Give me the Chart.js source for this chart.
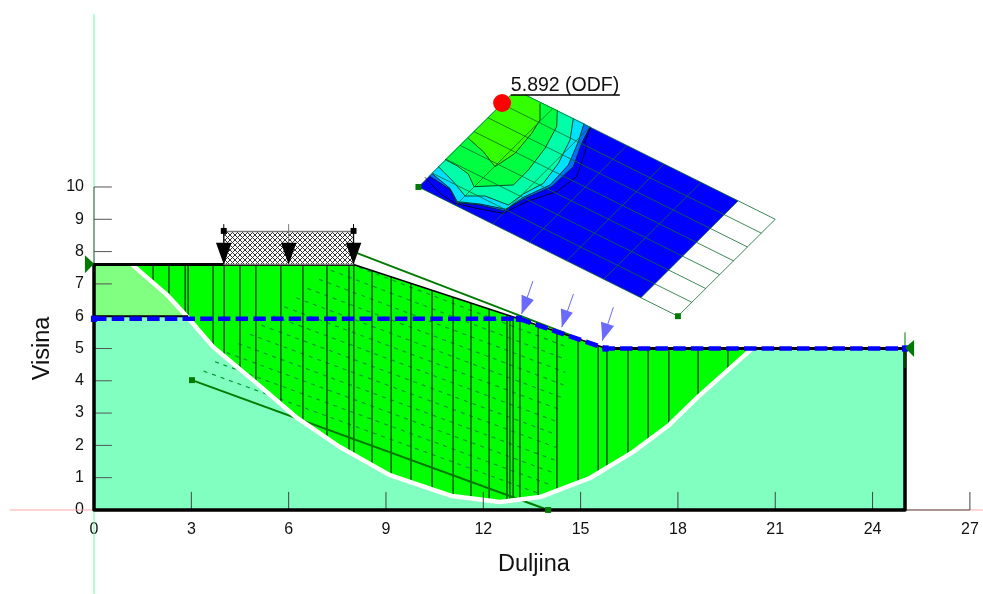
<!DOCTYPE html>
<html>
<head>
<meta charset="utf-8">
<title>Visina / Duljina</title>
<style>
  html, body { margin: 0; padding: 0; background: #fff; overflow: hidden; }
  canvas { display: block; }
</style>
<script src="https://cdn.jsdelivr.net/npm/chart.js@4"></script>
</head>
<body>
<canvas id="slopeChart" width="983" height="594"></canvas>
<script>
// axis ticks
const xTicks = [0, 3, 6, 9, 12, 15, 18, 21, 24, 27];
const yTicks = [0, 1, 2, 3, 4, 5, 6, 7, 8, 9, 10];

// slip surface (white line)
const slipX = [1.11, 2.25, 2.87, 3.67, 4.90, 6.26, 7.58, 9.12, 11.04, 12.52, 13.75, 15.29, 16.62, 17.69, 18.62, 19.54, 20.31];
const slipY = [7.65, 6.66, 5.98, 5.05, 4.02, 2.85, 1.95, 1.08, 0.43, 0.25, 0.40, 0.99, 1.80, 2.60, 3.50, 4.33, 5.02];

// ground surface and water table
const groundX = [0, 8, 13, 15.8, 25];
const groundY = [7.6, 7.6, 5.95, 5.0, 5.0];
const waterX = [0, 13.1, 15.77, 25];
const waterY = [5.92, 5.92, 5.0, 5.0];

// slices
const sliceX = [1.82, 2.31, 2.81, 2.90, 3.67, 4.01, 4.50, 4.99, 5.76, 6.44, 7.18, 7.86, 8.01, 8.57, 9.16, 9.77, 10.42, 11.07, 11.62, 12.18, 12.73, 12.82, 12.92, 13.13, 13.69, 14.27, 14.92, 15.54, 15.81, 16.46, 17.08, 17.72, 18.62, 19.54];
const sliceTop = [7.6, 7.6, 7.6, 7.6, 7.6, 7.6, 7.6, 7.6, 7.6, 7.6, 7.6, 7.6, 7.6, 7.41, 7.22, 7.02, 6.80, 6.59, 6.41, 6.22, 6.04, 6.01, 5.98, 5.91, 5.72, 5.53, 5.32, 5.11, 5.02, 5.0, 5.0, 5.0, 5.0, 5.0];
const sliceBottom = [7.03, 6.59, 6.05, 5.95, 5.05, 4.77, 4.36, 3.94, 3.28, 2.73, 2.22, 1.79, 1.71, 1.39, 1.07, 0.86, 0.64, 0.42, 0.36, 0.29, 0.28, 0.29, 0.30, 0.32, 0.39, 0.60, 0.85, 1.14, 1.31, 1.70, 2.14, 2.63, 3.50, 4.33];

// entry / exit range lines and the dashed lines between them
const rangeLowX = [3.02, 14.0];
const rangeLowY = [4.02, 0];
const rangeHighX = [8.01, 14.67];
const rangeHighY = [7.99, 5.42];
const fanStartX = [3.38, 3.73, 4.09, 4.45, 4.80, 5.16, 5.52, 5.87, 6.23, 6.58, 6.94, 7.30, 7.65];
const fanStartY = [4.30, 4.59, 4.87, 5.15, 5.44, 5.72, 6.01, 6.29, 6.57, 6.86, 7.14, 7.42, 7.71];
const fanEndX = [14.05, 14.10, 14.14, 14.19, 14.24, 14.29, 14.34, 14.38, 14.43, 14.48, 14.53, 14.58, 14.62];
const fanEndY = [0.39, 0.77, 1.16, 1.55, 1.94, 2.32, 2.71, 3.10, 3.48, 3.87, 4.26, 4.65, 5.03];

// surcharge on the crest
const loadX = [4, 6, 8];
const hatchX = [4, 8, 8, 4];
const hatchY = [7.6, 7.6, 8.62, 8.62];

// blue point loads on the slope
const arrowTipX = [13.18, 14.42, 15.67];
const arrowTipY = [6.07, 5.66, 5.24];
const arrowLeftX = [13.18, 14.39, 15.63];
const arrowLeftY = [6.66, 6.24, 5.83];
const arrowRightX = [13.56, 14.76, 16.03];
const arrowRightY = [6.50, 6.11, 5.70];
const arrowTailX = [13.53, 14.78, 16.01];
const arrowTailY = [7.09, 6.69, 6.28];

// ODF grid, corners and lines
const gridFillX = [10, 12.85, 13.3, 19.857, 16.857];
const gridFillY = [10, 12.85, 12.85, 9.571, 6.571];
const gridAcrossX0 = [10, 11.143, 12.286, 13.429, 14.571, 15.714, 16.857, 18];
const gridAcrossY0 = [10, 9.429, 8.857, 8.286, 7.714, 7.143, 6.571, 6];
const gridAcrossX1 = [12.85, 14.143, 15.286, 16.429, 17.571, 18.714, 19.857, 21];
const gridAcrossY1 = [12.85, 12.429, 11.857, 11.286, 10.714, 10.143, 9.571, 9];
const gridAlongX0 = [10, 10.429, 10.857, 11.286, 11.714, 12.143, 12.571, 13.3];
const gridAlongY0 = [10, 10.429, 10.857, 11.286, 11.714, 12.143, 12.571, 12.85];
const gridAlongX1 = [18, 18.429, 18.857, 19.286, 19.714, 20.143, 20.571, 21];
const gridAlongY1 = [6, 6.429, 6.857, 7.286, 7.714, 8.143, 8.571, 9];

// ODF contour bands, outermost first
const bandColors = ['#0070ff', '#00e0ff', '#00ffa8', '#00ff40', '#33ff00'];
const bandX = [
  [10.337, 10.974, 11.18, 11.899, 12.618, 13.286, 14.108, 14.776, 15.033, 15.29, 13.3, 12.85],
  [10.409, 10.974, 11.2, 11.899, 12.7, 13.235, 14.057, 14.622, 14.93, 15.105, 13.3, 12.85],
  [10.615, 11.077, 11.437, 12.053, 12.772, 13.235, 13.851, 14.314, 14.673, 14.776, 13.3, 12.85],
  [10.82, 11.2, 11.539, 11.714, 12.927, 13.389, 13.903, 14.262, 14.283, 13.3, 12.85],
  [11.539, 12.002, 12.361, 12.978, 13.492, 13.748, 13.748, 13.3, 12.85]
];
const bandY = [
  [10.34, 9.927, 9.515, 9.442, 9.267, 9.649, 10.01, 10.629, 11.352, 11.868, 12.85, 12.85],
  [10.423, 9.958, 9.546, 9.473, 9.308, 9.68, 10.062, 10.681, 11.403, 11.971, 12.85, 12.85],
  [10.629, 10.165, 9.721, 9.721, 9.442, 9.783, 10.113, 10.732, 11.455, 12.126, 12.85, 12.85],
  [10.856, 10.65, 10.402, 10.01, 10.062, 10.526, 11.197, 11.868, 12.384, 12.85, 12.85],
  [11.506, 11.094, 10.629, 11.042, 11.661, 12.074, 12.59, 12.85, 12.85]
];
const outerContourX = [10.2, 10.666, 11.128, 11.796, 12.618, 13.338, 14.262, 14.879, 15.187, 15.136, 15.31];
const outerContourY = [10.3, 9.804, 9.494, 9.339, 9.184, 9.546, 9.855, 10.32, 11.248, 11.403, 11.847];

// critical point and anchor squares
const odfPointX = [12.58];
const odfPointY = [12.6];
const anchorX = [3.02, 14.0, 10, 18];
const anchorY = [4.02, 0, 10, 6];
const odfLabel = '5.892 (ODF)';
const xTitle = 'Duljina';
const yTitle = 'Visina';

const toPoints = (xs, ys) => xs.map((x, i) => ({ x: x, y: ys[i] }));

const layers = [];

function addLine(xs, ys, color, width, dash) {
    layers.push({
        data: toPoints(xs, ys),
        showLine: true,
        borderColor: color,
        borderWidth: width,
        borderDash: dash || [],
        borderJoinStyle: 'round',
        pointRadius: 0,
        fill: false
    });
}

function addShape(xs, ys, color) {
    layers.push({
        data: toPoints(xs, ys),
        showLine: true,
        borderColor: 'transparent',
        borderWidth: 0,
        backgroundColor: color,
        pointRadius: 0,
        fill: 'shape'
    });
}

function addPoints(xs, ys, color, style, radius) {
    layers.push({
        data: toPoints(xs, ys),
        showLine: false,
        pointStyle: style,
        pointRadius: radius,
        pointBackgroundColor: color,
        pointBorderColor: color,
        pointBorderWidth: 0
    });
}

// cross hatch for the surcharge
function hatchPattern() {
    const tile = document.createElement('canvas');
    tile.width = 5;
    tile.height = 5;
    const c = tile.getContext('2d');
    c.fillStyle = '#fff';
    c.fillRect(0, 0, 5, 5);
    c.strokeStyle = '#333';
    c.lineWidth = 1;
    c.beginPath();
    c.moveTo(0, 0); c.lineTo(5, 5);
    c.moveTo(5, 0); c.lineTo(0, 5);
    c.stroke();
    return c.createPattern(tile, 'repeat');
}

// axis fits take no room, the plot area is the whole canvas
function noFitX(s) {
    s.height = 0;
    s.paddingLeft = s.paddingRight = s.paddingTop = s.paddingBottom = 0;
}
function noFitY(s) {
    s.width = 0;
    s.paddingLeft = s.paddingRight = s.paddingTop = s.paddingBottom = 0;
}

// reference axes
addLine([-2.6, 27.4], [0, 0], '#ffaaaa', 1);
addLine([0, 0], [-2.6, 15.35], '#66ffaa', 1);

// soil layers
addShape([0, 25, 25, 20.31].concat(slipX.slice(2).reverse(), [0]), [0, 0, 5, 5].concat(slipY.slice(2).reverse(), [6]), '#80ffc0');
addShape([0, 2.87, 2.25, 1.11, 0], [6, 5.98, 6.66, 7.6, 7.6], '#80ff80');
addShape(slipX.concat([15.8, 13, 8, 1.11]), slipY.concat([5.0, 5.95, 7.6, 7.6]), '#00ff00');

// dashed lines between the range lines
fanStartX.forEach((x, i) => addLine([x, fanEndX[i]], [fanStartY[i], fanEndY[i]], '#009a30', 1.2, [4, 5]));

// slices
sliceX.forEach((x, i) => addLine([x, x], [sliceBottom[i], sliceTop[i]], '#0a2a0a', 1.2));

addLine(rangeLowX, rangeLowY, '#007a00', 2);
addLine(rangeHighX, rangeHighY, '#007a00', 2);
addLine(slipX, slipY, '#ffffff', 4.5);

// tick marks grow inward from the axes
xTicks.forEach(v => addLine([v, v], [0, 0.56], '#444', 1));
yTicks.forEach(v => addLine([0, 0.55], [v, v], '#555', 1));
addLine([0, 27], [0, 0], '#555', 1);
addLine([0, 0], [0, 10], '#555', 1);

// model outline
addLine(groundX.slice(0, 2), groundY.slice(0, 2), '#000', 3);
addLine(groundX.slice(1, 4), groundY.slice(1, 4), '#000', 1.5);
addLine(groundX.slice(3), groundY.slice(3), '#000', 3);
addLine([0, 2.9], [6, 6], '#000', 2);
addLine([0, 0, 25, 25], [7.6, 0, 0, 5], '#000', 3.5);
addLine([25, 25], [4.4, 5.5], '#007a00', 1);

// water table
addLine(waterX, waterY, '#0000ff', 4.7, [12.5, 5.2]);
addPoints(waterX, waterY, '#0000ff', 'rect', 4.4);

// surcharge with arrows
addShape(hatchX, hatchY, hatchPattern());
addLine(hatchX.concat([4]), hatchY.concat([7.6]), '#777', 1.5);
loadX.forEach(x => {
    addLine([x, x], [7.6, 8.85], x === 6 ? '#777' : '#000', 1);
    addShape([x, x - 0.24, x + 0.24], [7.6, 8.27, 8.27], '#000');
});
addPoints([4, 8], [8.64, 8.64], '#000', 'rect', 4.2);

// point loads
arrowTipX.forEach((x, i) => {
    addLine([x, arrowTailX[i]], [arrowTipY[i], arrowTailY[i]], '#6a6aff', 1);
    addShape([x, arrowLeftX[i], arrowRightX[i]], [arrowTipY[i], arrowLeftY[i], arrowRightY[i]], '#6a6aff');
});

// boundary markers
addShape([0, -0.28, -0.28], [7.62, 7.89, 7.33], '#007a00');
addShape([25, 25.28, 25.28], [5.02, 5.26, 4.74], '#007a00');

// ODF plot: blue base, then nested contour bands
addShape(gridFillX, gridFillY, '#0000ff');
bandColors.forEach((color, i) => addShape(bandX[i], bandY[i], color));
bandX.forEach((xs, i) => addLine(xs.slice(0, -2), bandY[i].slice(0, -2), '#0a200a', 0.8));
addLine(outerContourX, outerContourY, '#000', 0.8);
gridAcrossX0.forEach((x, i) => addLine([x, gridAcrossX1[i]], [gridAcrossY0[i], gridAcrossY1[i]], '#0f6a30', 0.8));
gridAlongX0.forEach((x, i) => addLine([x, gridAlongX1[i]], [gridAlongY0[i], gridAlongY1[i]], '#0f6a30', 0.8));
addLine([12.85, 16.21], [12.85, 12.85], '#000', 1.5);
addPoints(odfPointX, odfPointY, '#ff0000', 'circle', 9);
addPoints(anchorX, anchorY, '#007a00', 'rect', 4.2);

// titles and the ODF label
const textPlugin = {
    id: 'slopeText',
    afterDatasetsDraw(chart) {
        const { ctx, scales } = chart;
        ctx.save();
        ctx.fillStyle = '#111';
        ctx.textBaseline = 'middle';
        ctx.textAlign = 'left';
        ctx.font = '19.5px "Liberation Sans"';
        ctx.fillText(odfLabel, scales.x.getPixelForValue(12.85), scales.y.getPixelForValue(13.13));
        ctx.textAlign = 'center';
        ctx.font = '23.5px "Liberation Sans"';
        ctx.fillText(xTitle, scales.x.getPixelForValue(13.56), scales.y.getPixelForValue(-1.68));
        ctx.translate(scales.x.getPixelForValue(-1.6), scales.y.getPixelForValue(5.0));
        ctx.rotate(-Math.PI / 2);
        ctx.fillText(yTitle, 0, 0);
        ctx.restore();
    }
};

new Chart(document.getElementById('slopeChart'), {
    type: 'scatter',
    data: { datasets: layers.slice().reverse() },
    plugins: [textPlugin],
    options: {
        responsive: false,
        devicePixelRatio: 1,
        animation: false,
        events: [],
        layout: { padding: 0, autoPadding: false },
        plugins: { legend: { display: false }, tooltip: { enabled: false } },
        scales: {
            x: {
                type: 'linear',
                position: { y: 0 },
                min: -2.898,
                max: 27.404,
                afterBuildTicks: s => { s.ticks = xTicks.map(v => ({ value: v })); },
                afterFit: noFitX,
                grid: { display: false },
                border: { display: false },
                ticks: {
                    autoSkip: false,
                    maxRotation: 0,
                    padding: 2,
                    color: '#111',
                    font: { family: '"Liberation Sans"', size: 16 }
                }
            },
            y: {
                type: 'linear',
                // labels end a little left of the axis line
                position: { x: -0.31 },
                min: -2.601,
                max: 15.789,
                afterBuildTicks: s => { s.ticks = yTicks.map(v => ({ value: v })); },
                afterFit: noFitY,
                grid: { display: false },
                border: { display: false },
                ticks: {
                    autoSkip: false,
                    color: '#111',
                    font: { family: '"Liberation Sans"', size: 16 }
                }
            }
        }
    }
});
</script>
</body>
</html>
